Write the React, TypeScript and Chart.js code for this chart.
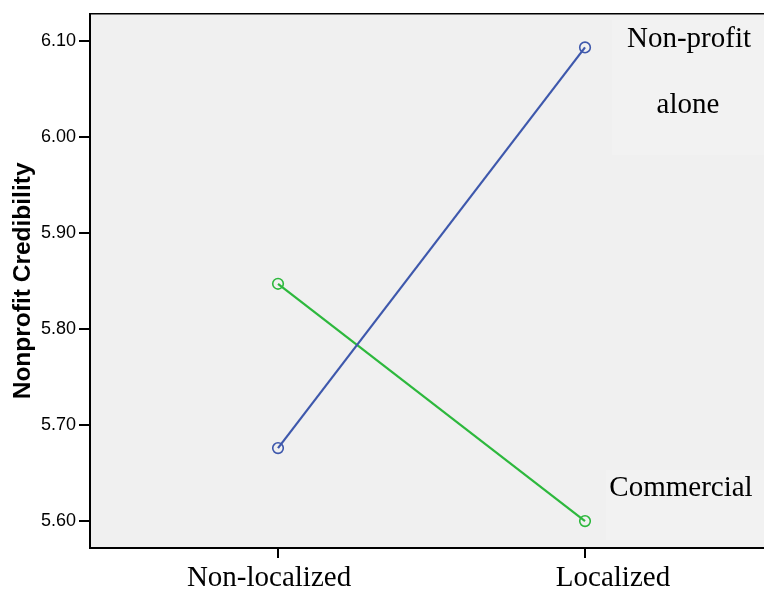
import React, { useEffect, useRef } from "react";
import { Chart, registerables } from "chart.js";

Chart.register(...registerables);

const categories = ["Non-localized", "Localized"];
const nonprofitAlone = [5.676, 6.093];
const commercial = [5.847, 5.6];
const yTicks = [5.6, 5.7, 5.8, 5.9, 6.0, 6.1];
const seriesNames = ["Non-profit alone", "Commercial"];
// horizontal shift of each category label from its tick (as in the reference)
const labelShift = [-9, 28];

const annotationPlugin = {
  id: "annotations",
  beforeDraw(chart: any) {
    const { ctx, chartArea } = chart;
    ctx.save();
    ctx.fillStyle = "#f0f0f0";
    ctx.fillRect(chartArea.left, chartArea.top, chartArea.right - chartArea.left, chartArea.bottom - chartArea.top);
    ctx.restore();
  },
  beforeDatasetsDraw(chart: any) {
    const { ctx } = chart;
    ctx.save();
    ctx.fillStyle = "#f2f2f2";
    ctx.fillRect(612, 20, 152, 135);
    ctx.fillRect(606, 470, 158, 70);
    ctx.fillStyle = "#000";
    ctx.font = '29px "Liberation Serif", "Times New Roman", serif';
    ctx.textAlign = "center";
    ctx.textBaseline = "alphabetic";
    ctx.fillText("Non-profit", 689, 47);
    ctx.fillText("alone", 688, 113);
    ctx.fillText("Commercial", 681, 496);
    ctx.restore();
  },
  afterDraw(chart: any) {
    const { ctx, chartArea } = chart;
    const xs = chart.scales.x;
    ctx.save();
    ctx.strokeStyle = "#000";
    ctx.lineWidth = 1.5;
    ctx.beginPath();
    ctx.moveTo(chartArea.left, chartArea.top);
    ctx.lineTo(chartArea.right, chartArea.top);
    ctx.stroke();
    ctx.fillStyle = "#000";
    ctx.font = '29px "Liberation Serif", "Times New Roman", serif';
    ctx.textAlign = "center";
    ctx.textBaseline = "alphabetic";
    categories.forEach((c, i) => {
      ctx.fillText(c, xs.getPixelForValue(i) + labelShift[i], xs.bottom - 11);
    });
    ctx.restore();
  },
};

export default function App() {
  const ref = useRef<HTMLCanvasElement | null>(null);
  useEffect(() => {
    if (!ref.current) return;
    const mk = (vals: number[]) => vals.map((v, i) => ({ x: i, y: v }));
    const chart = new Chart(ref.current, {
      type: "line",
      data: {
        datasets: [
          {
            label: seriesNames[0],
            data: mk(nonprofitAlone),
            borderColor: "#3e58ac",
            backgroundColor: "rgba(0,0,0,0)",
            borderWidth: 2.2,
            pointRadius: 5.3,
            pointBorderWidth: 1.6,
            pointBackgroundColor: "rgba(0,0,0,0)",
            pointBorderColor: "#3e58ac",
          },
          {
            label: seriesNames[1],
            data: mk(commercial),
            borderColor: "#2db83d",
            backgroundColor: "rgba(0,0,0,0)",
            borderWidth: 2.2,
            pointRadius: 5.3,
            pointBorderWidth: 1.6,
            pointBackgroundColor: "rgba(0,0,0,0)",
            pointBorderColor: "#2db83d",
          },
        ],
      },
      options: {
        animation: false,
        responsive: true,
        maintainAspectRatio: false,
        layout: { autoPadding: false, padding: { top: 11, right: 0, left: 0, bottom: 0 } },
        plugins: { legend: { display: false }, tooltip: { enabled: false } },
        scales: {
          x: {
            type: "linear",
            min: -0.6124,
            max: 1.583,
            afterBuildTicks: (s: any) => {
              s.ticks = categories.map((_, i) => ({ value: i }));
            },
            afterFit: (s: any) => {
              s.height = 49;
            },
            ticks: {
              display: false,
            },
            grid: { drawOnChartArea: false, tickLength: 10, color: "#000", lineWidth: 2 },
            border: { display: true, color: "#000", width: 2 },
          },
          y: {
            min: 5.572,
            max: 6.128,
            afterBuildTicks: (s: any) => {
              s.ticks = yTicks.map((v) => ({ value: v }));
            },
            afterFit: (s: any) => {
              s.width = 90;
            },
            ticks: {
              color: "#000",
              padding: 3,
              font: { family: '"Liberation Sans", Arial, sans-serif', size: 18 },
              callback: (v: any) => Number(v).toFixed(2),
            },
            grid: { drawOnChartArea: false, tickLength: 11, color: "#000", lineWidth: 2 },
            border: { display: true, color: "#000", width: 2 },
            title: {
              display: true,
              text: "Nonprofit Credibility",
              color: "#000",
              padding: { top: 9, bottom: 0 },
              font: { family: '"Liberation Sans", Arial, sans-serif', size: 24.5, weight: "bold" },
            },
          },
        },
      },
      plugins: [annotationPlugin],
    } as any);
    return () => chart.destroy();
  }, []);
  return (
    <div style={{ position: "absolute", left: 0, top: 0, width: 764, height: 597, background: "#fff" }}>
      <canvas ref={ref} />
    </div>
  );
}
